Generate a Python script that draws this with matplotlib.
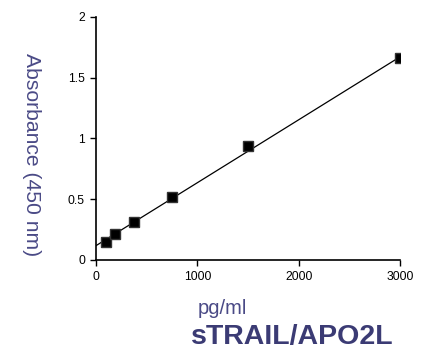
import numpy as np
import matplotlib.pyplot as plt

plt.rcParams['font.family'] = ['Liberation Sans', 'DejaVu Sans']

# standard curve points
conc = [93.75, 187.5, 375, 750, 1500, 3000]
absorb = [0.148, 0.211, 0.315, 0.519, 0.941, 1.665]
# fitted line end points
fit_x = [0, 3000]
fit_y = [0.118, 1.672]

x_ticks = [0, 1000, 2000, 3000]
y_ticks = [0, 0.5, 1, 1.5, 2]
y_tick_labels = ['0', '0.5', '1', '1.5', '2']

label_color = '#4a4a86'
title_color = '#3b3b74'


def main():
    fig = plt.figure(figsize=(4.23, 3.49), dpi=100)
    ax = fig.add_axes([96 / 423, 1 - 260 / 349, 304 / 423, 243 / 349])

    ax.plot(fit_x, fit_y, color='black', linewidth=0.9, zorder=2)
    ax.plot(conc, absorb, linestyle='none', marker='s', markersize=6.5,
            markerfacecolor='black', markeredgecolor='#333333', zorder=3)

    ax.set_xlim(0, 3000)
    ax.set_ylim(0, 2)
    ax.set_xticks(x_ticks)
    ax.set_yticks(y_ticks)
    ax.set_yticklabels(y_tick_labels)
    ax.spines['top'].set_visible(False)
    ax.spines['right'].set_visible(False)
    for s in ['left', 'bottom']:
        ax.spines[s].set_linewidth(1.2)
    ax.tick_params(direction='out', length=4, width=1, labelsize=8.7, pad=4)

    fig.text(31 / 423, 1 - 155 / 349, 'Absorbance (450 nm)', rotation=-90,
             ha='center', va='center', fontsize=15.2, color=label_color)
    fig.text(222 / 423, 1 - 308 / 349, 'pg/ml', ha='center', va='center',
             fontsize=14.5, color=label_color)
    fig.text(292 / 423, 1 - 337 / 349, 'sTRAIL/APO2L', ha='center', va='center',
             fontsize=20.5, fontweight='bold', color=title_color)

    fig.savefig('out.png', dpi=100)


if __name__ == '__main__':
    main()
